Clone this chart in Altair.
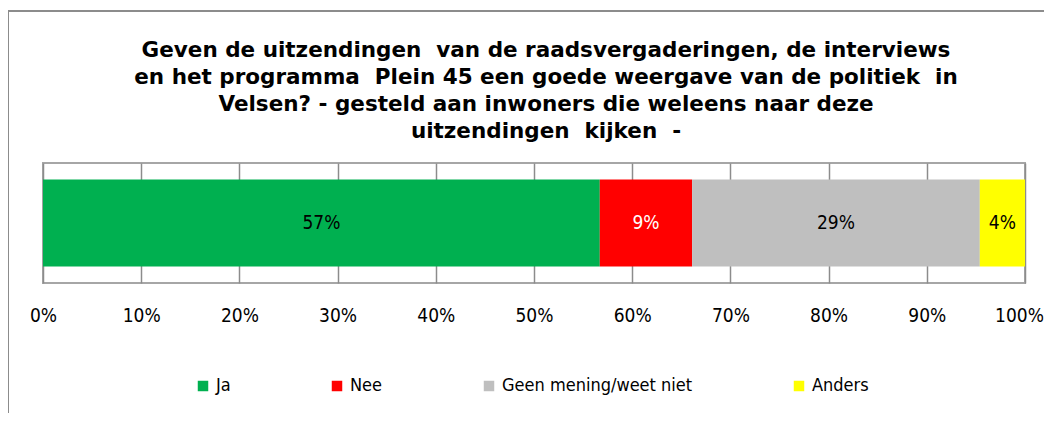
import altair as alt
import pandas as pd

categories = ["Ja", "Nee", "Geen mening/weet niet", "Anders"]
values = [56.7, 9.4, 29.3, 4.6]
labels = ["57%", "9%", "29%", "4%"]
colors = ["#00B050", "#FF0000", "#BFBFBF", "#FFFF00"]
label_colors = ["black", "white", "black", "black"]
ticks = [0, 10, 20, 30, 40, 50, 60, 70, 80, 90, 100]

title_lines = [
    "Geven de uitzendingen\u00a0 van de raadsvergaderingen, de interviews",
    "en het programma\u00a0 Plein 45 een goede weergave van de politiek\u00a0 in",
    "Velsen? - gesteld aan inwoners die weleens naar deze",
    "uitzendingen\u00a0 kijken\u00a0 -",
]

FONT = "DejaVu Sans Condensed"
TITLE_FONT = "DejaVu Sans"

df = pd.DataFrame({
    "cat": categories,
    "value": values,
    "label": labels,
    "tc": label_colors,
    "idx": list(range(len(categories))),
    "q": ["q"] * len(categories),
})

base = alt.Chart(df)

bars = base.mark_bar(size=87).encode(
    x=alt.X("value:Q", stack="zero",
            scale=alt.Scale(domain=[0, 100], nice=False),
            axis=alt.Axis(values=ticks, labelExpr="datum.value + '%'", title=None,
                          grid=True, gridColor="#8c8c8c", gridWidth=1.5,
                          ticks=False, domain=False, labelPadding=23,
                          labelFlush=False, labelBound=False,
                          labelOffset={"expr": "datum.value == 100 ? -6 : 0"},
                          labelFontSize=19, labelFont=FONT, labelColor="#000000")),
    y=alt.Y("q:N", axis=None),
    color=alt.Color("cat:N",
                    scale=alt.Scale(domain=categories, range=colors),
                    legend=alt.Legend(title=None, orient="none", direction="horizontal",
                                      legendX=151, legendY=214,
                                      symbolType="square", symbolSize=110,
                                      symbolStrokeWidth=0, labelFontSize=18,
                                      labelFont=FONT, labelColor="#000000",
                                      labelLimit=400,
                                      columnPadding=97, labelOffset=4)),
    order=alt.Order("idx:Q"),
)

text = base.transform_window(
    cum="sum(value)", sort=[alt.SortField("idx")], frame=[None, 0]
).transform_calculate(
    mid="datum.cum - datum.value / 2"
).mark_text(fontSize=19, font=FONT, baseline="middle", align="center").encode(
    x=alt.X("mid:Q"),
    y=alt.Y("q:N", axis=None),
    text="label:N",
    color=alt.Color("tc:N", scale=None),
)

frame_df = pd.DataFrame({"a": [0]})
frame_left = alt.Chart(frame_df).mark_rule(color="#8c8c8c", strokeWidth=2).encode(
    x=alt.value(-35), y=alt.value(-152), y2=alt.value(400)
)
frame_top = alt.Chart(frame_df).mark_rule(color="#8c8c8c", strokeWidth=2).encode(
    x=alt.value(-35), x2=alt.value(1100), y=alt.value(-152)
)

chart = alt.layer(frame_left, frame_top, bars, text).properties(
    width=982, height=120,
    title=alt.TitleParams(text=title_lines, fontSize=21.5, font=TITLE_FONT, fontWeight="bold",
                          color="#000000", lineHeight=27, anchor="middle", dx=12,
                          frame="group", offset=-132),
    autosize=alt.AutoSizeParams(type="none"),
    padding={"left": 35, "top": 155, "right": 19, "bottom": 130},
).configure_view(stroke="#a6a6a6", strokeWidth=2)

chart.save("out.html", embed_options={"renderer": "svg", "actions": False})
